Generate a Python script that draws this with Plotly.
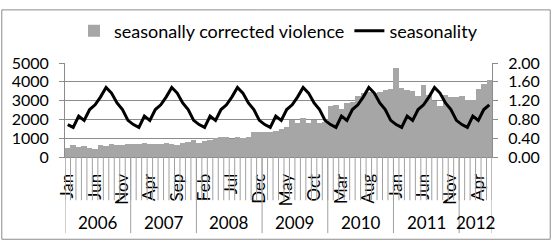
import plotly.graph_objects as go

# ---------------- data ----------------
years = ["2006", "2007", "2008", "2009", "2010", "2011", "2012"]
months_per_year = [12, 12, 12, 12, 12, 12, 6]
month_names = ["Jan", "Feb", "Mar", "Apr", "May", "Jun",
               "Jul", "Aug", "Sep", "Oct", "Nov", "Dec"]

violence = [
    # 2006
    500, 650, 520, 570, 470, 450, 630, 580, 700, 650, 620, 680,
    # 2007
    700, 700, 750, 700, 670, 700, 720, 700, 620, 730, 780, 900,
    # 2008
    730, 870, 920, 1030, 1050, 1050, 950, 1050, 1000, 1080, 1320, 1320,
    # 2009
    1320, 1320, 1400, 1480, 1600, 1950, 1820, 2050, 1830, 1950, 1800, 1850,
    # 2010
    2720, 2780, 2530, 2880, 2930, 3250, 3390, 3470, 3420, 3450, 3570, 3630,
    # 2011
    4720, 3680, 3560, 3520, 3230, 3810, 3280, 3000, 2700, 3280, 3200, 3200,
    # 2012
    3250, 3030, 3030, 3620, 3870, 4070,
]

seasonality = [
    0.69, 0.63, 0.87, 0.78, 1.01, 1.11, 1.28, 1.48, 1.36, 1.15, 1.01, 0.78,
    0.69, 0.63, 0.87, 0.78, 1.01, 1.11, 1.28, 1.48, 1.36, 1.15, 1.01, 0.78,
    0.69, 0.63, 0.87, 0.78, 1.01, 1.11, 1.28, 1.48, 1.36, 1.15, 1.01, 0.78,
    0.69, 0.63, 0.87, 0.78, 1.01, 1.11, 1.28, 1.48, 1.36, 1.15, 1.01, 0.78,
    0.69, 0.63, 0.87, 0.78, 1.01, 1.11, 1.28, 1.48, 1.36, 1.15, 1.01, 0.78,
    0.69, 0.63, 0.87, 0.78, 1.01, 1.11, 1.28, 1.48, 1.36, 1.15, 1.01, 0.78,
    0.69, 0.63, 0.87, 0.78, 1.01, 1.11,
]

left_ticks = [0, 1000, 2000, 3000, 4000, 5000]
right_ticks = [0.0, 0.4, 0.8, 1.2, 1.6, 2.0]
label_step = 5

# ---------------- derived ----------------
n = len(violence)
x = list(range(n))
month_labels = []
for cnt in months_per_year:
    month_labels += month_names[:cnt]
tick_pos = x[::label_step]
tick_txt = [month_labels[i] for i in tick_pos]

FONT = "Lato, 'Open Sans', sans-serif"
GRID = "#8C8C8C"
W, H = 552, 245
L, R, T, B = 64, 59, 57, 88
pw, ph = W - L - R, H - T - B

def px_to_paper_x(p):
    return (p - L) / pw

def px_to_paper_y(p):
    return (H - B - p) / ph

fig = go.Figure()
fig.add_trace(go.Bar(
    x=x, y=violence, name="seasonally corrected violence",
    marker=dict(color="#A6A6A6", line=dict(width=0)),
    yaxis="y",
))
fig.add_trace(go.Scatter(
    x=x, y=seasonality, name="seasonality", mode="lines",
    line=dict(color="black", width=3),
    yaxis="y2",
))

shapes = []
# month separators
for b in range(n + 1):
    shapes.append(dict(type="line", xref="x", yref="paper",
                       x0=b - 0.5, x1=b - 0.5, y0=0, y1=px_to_paper_y(203),
                       line=dict(color="#A0A0A0", width=1)))
# year separators
acc = 0
bounds = [0]
for cnt in months_per_year:
    acc += cnt
    bounds.append(acc)
for b in bounds:
    shapes.append(dict(type="line", xref="x", yref="paper",
                       x0=b - 0.5, x1=b - 0.5, y0=0, y1=px_to_paper_y(238),
                       line=dict(color="#A0A0A0", width=1)))
# outer border
shapes.append(dict(type="rect", xref="paper", yref="paper",
                   x0=px_to_paper_x(0.5), x1=px_to_paper_x(W - 0.5),
                   y0=px_to_paper_y(H - 0.5), y1=px_to_paper_y(0.5),
                   line=dict(color="#8C8C8C", width=1)))

annotations = []
for yi, yr in enumerate(years):
    c = (bounds[yi] + bounds[yi + 1] - 1) / 2
    annotations.append(dict(x=c, y=px_to_paper_y(227), xref="x", yref="paper",
                            text=yr, showarrow=False,
                            font=dict(family=FONT, size=17, color="black"),
                            xanchor="center", yanchor="middle"))

fig.update_layout(
    width=W, height=H,
    margin=dict(l=L, r=R, t=T, b=B),
    paper_bgcolor="white", plot_bgcolor="white",
    bargap=0,
    showlegend=True,
    legend=dict(orientation="h", x=0.5, xanchor="center",
                y=px_to_paper_y(23), yanchor="middle",
                font=dict(family=FONT, size=18, color="black"),
                bgcolor="rgba(0,0,0,0)"),
    font=dict(family=FONT, size=16, color="black"),
    xaxis=dict(range=[-0.5, n - 0.5], tickmode="array", tickvals=tick_pos,
               ticktext=tick_txt, tickangle=-90, ticks="", showgrid=False,
               showline=True, linecolor=GRID, linewidth=1,
               ticklabelstandoff=9, zeroline=False,
               tickfont=dict(family=FONT, size=17, color="black")),
    yaxis=dict(range=[0, 5000], tickmode="array", tickvals=left_ticks,
               showgrid=True, gridcolor=GRID, gridwidth=1,
               showline=True, linecolor=GRID, ticks="outside", ticklen=5,
               tickcolor=GRID, zeroline=False, ticklabelstandoff=7,
               tickfont=dict(family=FONT, size=16, color="black")),
    yaxis2=dict(range=[0, 2.0], tickmode="array", tickvals=right_ticks,
                tickformat=".2f", overlaying="y", side="right",
                showgrid=False, showline=True, linecolor=GRID,
                ticks="outside", ticklen=5, tickcolor=GRID, zeroline=False,
                ticklabelstandoff=7,
                tickfont=dict(family=FONT, size=16, color="black")),
    shapes=shapes,
    annotations=annotations,
)

fig.write_html("out.html")
